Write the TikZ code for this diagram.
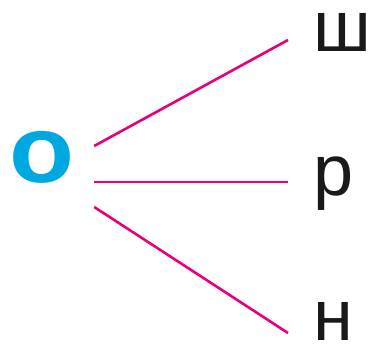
\documentclass[tikz,border=0pt]{standalone}
\usepackage{fontspec}
\setmainfont{Liberation Sans}
\usepackage{xcolor}
\usepackage{tikz}
\usetikzlibrary{positioning,calc}
\definecolor{vowelblue}{RGB}{0,168,226}
\definecolor{linkpink}{RGB}{230,0,126}

\begin{document}
\begin{tikzpicture}[
      x=1pt, y=1pt,
      vowel/.style={inner sep=0pt, text=vowelblue, font=\fontsize{95}{95}\selectfont\bfseries},
      letter/.style={inner sep=0pt, anchor=base west, text height=0.56em, text=black!90, font=\fontsize{72}{72}\selectfont},
      link/.style={line width=2.6pt, draw=linkpink}
    ]
      \useasboundingbox (0,0) rectangle (375,345);
      \node[vowel, anchor=base] (o) at (41.5,162) {\scalebox{1.12}[1]{о}};
      \node[letter] (sh) at (313,293) {ш};
      \node[letter] (r) at (313,149) {р};
      \node[letter] (n) at (313,4) {н};
      \draw[link] ([shift={(20,37)}]o.base east) -- ([shift={(-25,12)}]sh.base west);
      \draw[link] ([shift={(20,1)}]o.base east) -- ([shift={(-25,14)}]r.base west);
      \draw[link] ([shift={(20,-24)}]o.base east) -- ([shift={(-25,8)}]n.base west);
    \end{tikzpicture}
\end{document}
